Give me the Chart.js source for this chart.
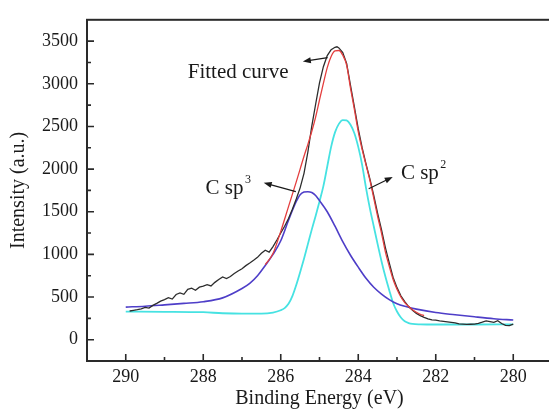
<!DOCTYPE html>
<html>
<head>
<meta charset="utf-8">
<script src="https://cdn.jsdelivr.net/npm/chart.js@4.4.1/dist/chart.umd.min.js"></script>
<style>
  html, body { margin: 0; padding: 0; background: #fff; overflow: hidden; }
  #wrap { position: relative; width: 560px; height: 409px; }
</style>
</head>
<body>
<div id="wrap"><canvas id="xpsChart"></canvas></div>
<script>
// axis ticks
const xTicks = [290, 288, 286, 284, 282, 280];
const xMinorTicks = [289, 287, 285, 283, 281];
const yTicks = [0, 500, 1000, 1500, 2000, 2500, 3000, 3500];
const yMinorTicks = [250, 750, 1250, 1750, 2250, 2750, 3250];

// measured spectrum (black)
const rawEnergy = [289.9, 289.8, 289.7, 289.6, 289.5, 289.4, 289.3, 289.2, 289.1, 289.0,
    288.9, 288.8, 288.7, 288.6, 288.5, 288.4, 288.3, 288.2, 288.1, 288.0,
    287.9, 287.8, 287.7, 287.6, 287.5, 287.4, 287.3, 287.2, 287.1, 287.0,
    286.9, 286.8, 286.7, 286.6, 286.5, 286.4, 286.3, 286.2, 286.1, 286.0,
    285.9, 285.8, 285.7, 285.6, 285.5, 285.4, 285.3, 285.2, 285.1, 285.0,
    284.9, 284.8, 284.7, 284.6, 284.55, 284.5, 284.4, 284.3, 284.2, 284.1, 284.0,
    283.9, 283.8, 283.7, 283.6, 283.5, 283.4, 283.3, 283.2, 283.1, 283.0,
    282.9, 282.8, 282.7, 282.6, 282.5, 282.4, 282.3, 282.2, 282.1, 282.0,
    281.9, 281.8, 281.7, 281.6, 281.5, 281.4, 281.3, 281.2, 281.1, 281.0,
    280.9, 280.8, 280.7, 280.6, 280.5, 280.4, 280.3, 280.2, 280.1, 280.0];
const rawIntensity = [336, 344, 352, 362, 378, 370, 402, 425, 452, 470,
    492, 476, 530, 548, 532, 590, 604, 580, 615, 628,
    645, 630, 672, 705, 735, 716, 740, 775, 805, 832,
    868, 898, 930, 965, 1012, 1048, 1026, 1092, 1168, 1250,
    1330, 1420, 1530, 1650, 1780, 1950, 2200, 2500, 2760, 3010,
    3200, 3330, 3400, 3428, 3434, 3420, 3365, 3240, 2980, 2730, 2470,
    2250, 2060, 1885, 1690, 1480, 1290, 1080, 900, 730, 610,
    515, 445, 388, 345, 308, 282, 262, 245, 232, 228,
    220, 214, 208, 203, 196, 185, 182, 180, 181, 183,
    192, 205, 220, 212, 202, 222, 190, 168, 165, 182];

// fitted envelope (red)
const fitEnergy = [286.4, 286.2, 286.0, 285.8, 285.6, 285.5, 285.4, 285.3, 285.2, 285.1, 285.0,
    284.9, 284.8, 284.7, 284.6, 284.5, 284.4, 284.3, 284.2, 284.1, 284.0,
    283.9, 283.8, 283.7, 283.6, 283.5, 283.4, 283.3, 283.2, 283.1, 283.0,
    282.9, 282.8, 282.7, 282.6, 282.5, 282.4, 282.3];
const fitIntensity = [880, 1010, 1270, 1560, 1850, 2000, 2150, 2290, 2440, 2610, 2810,
    3005, 3190, 3320, 3385, 3390, 3335, 3220, 2950, 2700, 2440,
    2230, 2050, 1870, 1660, 1445, 1250, 1030, 860, 705, 590,
    500, 435, 388, 350, 322, 298, 282];

// C sp3 component (blue)
const sp3Energy = [290.0, 289.5, 289.0, 288.5, 288.0, 287.5, 287.0, 286.8, 286.6, 286.4,
    286.2, 286.0, 285.8, 285.6, 285.5, 285.4, 285.3, 285.2, 285.1, 285.0,
    284.8, 284.6, 284.4, 284.2, 284.0, 283.8, 283.6, 283.4, 283.2, 283.0,
    282.75, 282.5, 282.0, 281.5, 281.0, 280.5, 280.0];
const sp3Intensity = [382, 392, 408, 425, 445, 490, 600, 660, 750, 870,
    1000, 1160, 1400, 1620, 1700, 1730, 1735, 1725, 1690, 1630,
    1500, 1330, 1150, 990, 850, 720, 615, 535, 470, 420,
    385, 358, 318, 292, 268, 246, 230];

// C sp2 component (cyan)
const sp2Energy = [290.0, 289.0, 288.0, 287.5, 287.0, 286.5, 286.2, 286.0, 285.9, 285.8,
    285.7, 285.6, 285.5, 285.4, 285.3, 285.2, 285.1, 285.0, 284.9, 284.8,
    284.7, 284.6, 284.5, 284.4, 284.3, 284.2, 284.1, 284.0, 283.9, 283.8,
    283.7, 283.6, 283.5, 283.4, 283.3, 283.2, 283.1, 283.0, 282.9, 282.8,
    282.7, 282.6, 282.4, 282.0, 281.0, 280.0];
const sp2Intensity = [328, 327, 322, 310, 305, 305, 318, 345, 370, 420,
    510, 640, 790, 950, 1120, 1290, 1450, 1620, 1800, 2030,
    2260, 2430, 2530, 2575, 2570, 2520, 2420, 2260, 2050, 1780,
    1540, 1330, 1120, 920, 740, 580, 430, 330, 260, 215,
    195, 185, 180, 178, 178, 180];

const toPoints = (xs, ys) => xs.map((v, i) => ({x: v, y: ys[i]}));

const serif = '"Liberation Serif", "Times New Roman", serif';
const ink = '#1a1a1a';

const frameAndTicks = {
    id: 'frameAndTicks',
    afterDraw(chart) {
        const {ctx, chartArea: a, scales: {x, y}} = chart;
        ctx.save();
        ctx.strokeStyle = '#2a2a2a';
        ctx.lineWidth = 1.6;
        ctx.beginPath();
        xTicks.forEach(v => { const p = x.getPixelForValue(v); ctx.moveTo(p, a.bottom); ctx.lineTo(p, a.bottom - 7); });
        xMinorTicks.forEach(v => { const p = x.getPixelForValue(v); ctx.moveTo(p, a.bottom); ctx.lineTo(p, a.bottom - 4); });
        yTicks.forEach(v => { const p = y.getPixelForValue(v); ctx.moveTo(a.left, p); ctx.lineTo(a.left + 7, p); });
        yMinorTicks.forEach(v => { const p = y.getPixelForValue(v); ctx.moveTo(a.left, p); ctx.lineTo(a.left + 4, p); });
        ctx.stroke();
        ctx.lineWidth = 2;
        ctx.strokeRect(a.left, a.top, a.right - a.left, a.bottom - a.top);
        ctx.restore();
    }
};

// labels with arrows, anchored in data units
const notes = [
    {text: 'Fitted curve', sup: '', at: [288.4, 3065], tail: [284.79, 3307], tip: [285.43, 3261]},
    {text: 'C sp', sup: '3', at: [287.94, 1712], tail: [285.61, 1735], tip: [286.44, 1839]},
    {text: 'C sp', sup: '2', at: [282.9, 1885], tail: [283.73, 1770], tip: [283.11, 1907]},
];

const notesPlugin = {
    id: 'notes',
    afterDraw(chart) {
        const {ctx, scales: {x, y}} = chart;
        ctx.save();
        ctx.fillStyle = ink;
        ctx.strokeStyle = ink;
        ctx.textBaseline = 'alphabetic';
        notes.forEach(n => {
            const tx = x.getPixelForValue(n.at[0]), ty = y.getPixelForValue(n.at[1]);
            ctx.font = '21px ' + serif;
            ctx.fillText(n.text, tx, ty);
            if (n.sup) {
                const w = ctx.measureText(n.text).width;
                ctx.font = '12px ' + serif;
                ctx.fillText(n.sup, tx + w + 1.5, ty - 11);
            }
            const x0 = x.getPixelForValue(n.tail[0]), y0 = y.getPixelForValue(n.tail[1]);
            const x1 = x.getPixelForValue(n.tip[0]), y1 = y.getPixelForValue(n.tip[1]);
            const ang = Math.atan2(y1 - y0, x1 - x0);
            ctx.lineWidth = 1.2;
            ctx.beginPath();
            ctx.moveTo(x0, y0);
            ctx.lineTo(x1 - 4 * Math.cos(ang), y1 - 4 * Math.sin(ang));
            ctx.stroke();
            ctx.beginPath();
            ctx.moveTo(x1, y1);
            ctx.lineTo(x1 - 8 * Math.cos(ang) + 3 * Math.sin(ang), y1 - 8 * Math.sin(ang) - 3 * Math.cos(ang));
            ctx.lineTo(x1 - 8 * Math.cos(ang) - 3 * Math.sin(ang), y1 - 8 * Math.sin(ang) + 3 * Math.cos(ang));
            ctx.closePath();
            ctx.fill();
        });
        ctx.restore();
    }
};

const line = (label, pts, color, width, smooth) => ({
    label: label,
    data: pts,
    borderColor: color,
    borderWidth: width,
    pointRadius: 0,
    fill: false,
    tension: smooth ? 0.4 : 0,
    cubicInterpolationMode: smooth ? 'monotone' : 'default',
});

new Chart(document.querySelector('#xpsChart').getContext('2d'), {
    type: 'line',
    data: {
        datasets: [
            line('Fitted curve', toPoints(fitEnergy, fitIntensity), 'rgb(228,62,62)', 1.3, true),
            line('Experimental', toPoints(rawEnergy, rawIntensity), 'rgb(45,45,45)', 1.3, false),
            line('C sp3', toPoints(sp3Energy, sp3Intensity), 'rgb(78,62,200)', 1.6, true),
            line('C sp2', toPoints(sp2Energy, sp2Intensity), 'rgb(70,226,226)', 1.8, true),
        ],
    },
    options: {
        responsive: true,
        maintainAspectRatio: false,
        animation: false,
        devicePixelRatio: 1,
        layout: {padding: {left: 0, top: 14, right: 8, bottom: 0}},
        plugins: {legend: {display: false}, tooltip: {enabled: false}},
        scales: {
            x: {
                type: 'linear',
                reverse: true,
                min: 279,
                max: 291,
                afterBuildTicks: s => { s.ticks = xTicks.map(v => ({value: v})); },
                afterFit: s => { s.height = 48; },
                grid: {display: false, drawTicks: false},
                border: {display: false},
                ticks: {padding: 5, color: ink, font: {family: serif, size: 18},
                    callback: v => String(v)},
                title: {display: true, text: 'Binding Energy (eV)', color: ink,
                    font: {family: serif, size: 20, lineHeight: 1}, padding: {top: 0, bottom: 0}},
            },
            y: {
                type: 'linear',
                min: -250,
                max: 3750,
                afterBuildTicks: s => { s.ticks = yTicks.map(v => ({value: v})); },
                afterFit: s => { s.width = 87; },
                grid: {display: false, drawTicks: false},
                border: {display: false},
                ticks: {padding: 9, color: ink, font: {family: serif, size: 18},
                    callback: v => String(v)},
                title: {display: true, text: 'Intensity (a.u.)', color: ink,
                    font: {family: serif, size: 20, lineHeight: 1}, padding: {top: 9, bottom: 0}},
            },
        },
    },
    plugins: [frameAndTicks, notesPlugin],
});
</script>
</body>
</html>
